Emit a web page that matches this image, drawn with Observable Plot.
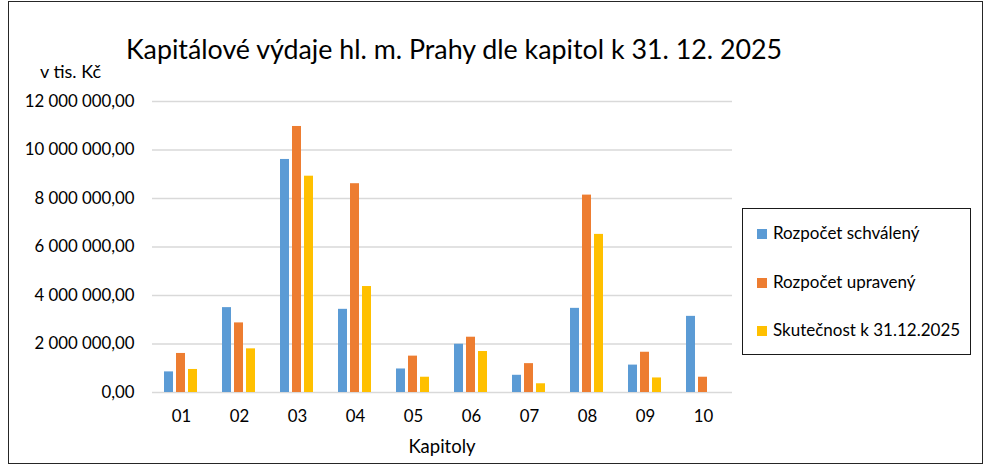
<!DOCTYPE html>
<html>
<head>
<meta charset="utf-8">
<script src="https://cdn.jsdelivr.net/npm/d3@7"></script>
<script src="https://cdn.jsdelivr.net/npm/@observablehq/plot@0.6"></script>
<style>
  body { margin: 0; background: #fff; }
  #wrap { position: relative; width: 993px; height: 473px; font-family: Lato, "Open Sans", sans-serif; color: #000; overflow: hidden; }
  #border { position: absolute; left: 8px; top: 1px; width: 975px; height: 463px; border: 1.6px solid #262626; box-sizing: border-box; }
  #title { position: absolute; left: 0; width: 908px; top: 33px; text-align: center; font-size: 26.8px; white-space: nowrap; }
  #unit { position: absolute; left: 40px; top: 60px; font-size: 18px; }
  #xlabel { position: absolute; left: 149px; width: 586px; top: 435px; text-align: center; font-size: 18.5px; }
  #legend { position: absolute; left: 742px; top: 208px; width: 229px; height: 147px; border: 1.3px solid #1a1a1a; box-sizing: border-box; }
  .item { position: absolute; left: 14px; font-size: 17px; white-space: nowrap; }
  .sw { display: inline-block; width: 10px; height: 10px; margin-right: 6px; vertical-align: 0px; }
  #chart { position: absolute; left: 0; top: 0; }
</style>
</head>
<body>
<div id="wrap">
  <div id="chart"></div>
  <div id="border"></div>
  <div id="title"></div>
  <div id="unit"></div>
  <div id="xlabel"></div>
  <div id="legend"></div>
</div>
<script>
const title = "Kapitálové výdaje hl. m. Prahy dle kapitol k 31. 12. 2025";
const unitLabel = "v tis. Kč";
const xLabel = "Kapitoly";
const kapitoly = ["01","02","03","04","05","06","07","08","09","10"];
const series = ["Rozpočet schválený","Rozpočet upravený","Skutečnost k 31.12.2025"];
const colors = ["#5B9BD5","#ED7D31","#FFC000"];
const schvaleny = [850000, 3500000, 9610000, 3430000, 970000, 1990000, 710000, 3470000, 1130000, 3140000];
const upraveny  = [1610000, 2870000, 10970000, 8610000, 1500000, 2280000, 1190000, 8140000, 1660000, 630000];
const skutecnost = [950000, 1800000, 8920000, 4370000, 630000, 1690000, 360000, 6520000, 600000, 0];
const yTicks = [0, 2000000, 4000000, 6000000, 8000000, 10000000, 12000000];

const values = [schvaleny, upraveny, skutecnost];
const rows = [];
kapitoly.forEach((k, i) => series.forEach((s, j) => rows.push({kap: k, series: s, value: values[j][i]})));

const locale = d3.formatLocale({decimal: ",", thousands: " ", grouping: [3], currency: ["", " Kč"]});
const fmt = locale.format(",.2f");

const chart = Plot.plot({
  width: 993,
  height: 473,
  marginLeft: 149,
  marginRight: 258,
  marginTop: 101,
  marginBottom: 81,
  style: {fontFamily: "Lato, 'Open Sans', sans-serif", fontSize: "16.8px", color: "#000", background: "transparent"},
  fx: {domain: kapitoly, padding: 0, label: null, tickSize: 0, tickPadding: 18},
  x: {domain: series, paddingInner: 0.23, paddingOuter: 0.87, axis: null},
  y: {domain: [0, 12000000], ticks: yTicks, tickFormat: fmt, tickSize: 0, tickPadding: 18, label: null},
  color: {domain: series, range: colors},
  marks: [
    Plot.gridY(yTicks, {stroke: "#d9d9d9", strokeOpacity: 1, strokeWidth: 1.4}),
    Plot.barY(rows, {fx: "kap", x: "series", y: "value", fill: "series"})
  ]
});
document.getElementById("chart").appendChild(chart);

document.getElementById("title").textContent = title;
document.getElementById("unit").textContent = unitLabel;
document.getElementById("xlabel").textContent = xLabel;
const legend = document.getElementById("legend");
series.forEach((s, j) => {
  const d = document.createElement("div");
  d.className = "item";
  d.style.top = (13 + j * 48.5) + "px";
  const sw = document.createElement("span");
  sw.className = "sw";
  sw.style.background = colors[j];
  d.appendChild(sw);
  d.appendChild(document.createTextNode(s));
  legend.appendChild(d);
});
</script>
</body>
</html>
